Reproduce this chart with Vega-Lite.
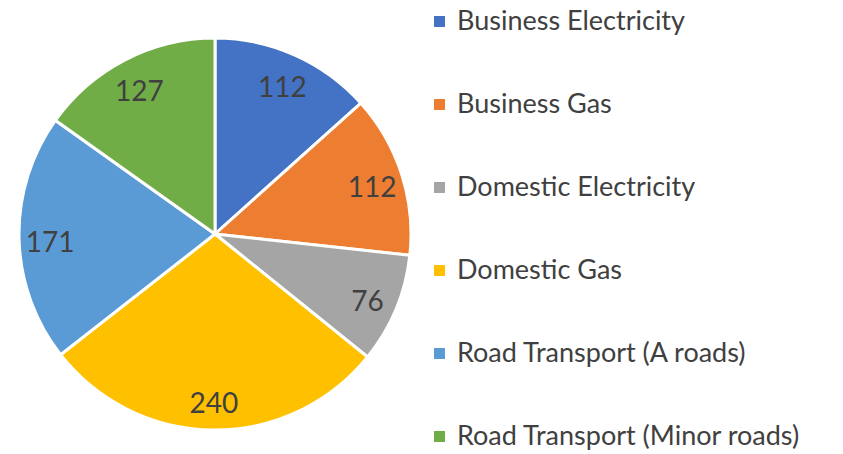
{
  "$schema": "https://vega.github.io/schema/vega-lite/v6.json",
  "autosize": "none",
  "width": 430,
  "height": 440,
  "padding": {"top": 14, "left": 0, "right": 413, "bottom": 0},
  "background": "white",
  "data": {
    "values": [
      {"i": 1, "category": "Business Electricity", "value": 112},
      {"i": 2, "category": "Business Gas", "value": 112},
      {"i": 3, "category": "Domestic Electricity", "value": 76},
      {"i": 4, "category": "Domestic Gas", "value": 240},
      {"i": 5, "category": "Road Transport (A roads)", "value": 171},
      {"i": 6, "category": "Road Transport (Minor roads)", "value": 127}
    ]
  },
  "encoding": {
    "theta": {"field": "value", "type": "quantitative", "stack": true},
    "order": {"field": "i", "type": "quantitative"},
    "color": {
      "field": "category",
      "type": "nominal",
      "scale": {
        "domain": ["Business Electricity", "Business Gas", "Domestic Electricity", "Domestic Gas", "Road Transport (A roads)", "Road Transport (Minor roads)"],
        "range": ["#4472C4", "#ED7D31", "#A5A5A5", "#FFC000", "#5B9BD5", "#70AD47"]
      },
      "legend": {
        "title": null,
        "orient": "none",
        "legendX": 426,
        "legendY": -6,
        "symbolType": "square",
        "symbolSize": 120,
        "symbolStrokeWidth": 0,
        "labelFont": "Lato",
        "labelFontSize": 27,
        "labelColor": "#404040",
        "labelOffset": 4,
        "rowPadding": 55,
        "labelLimit": 500
      }
    }
  },
  "layer": [
    {
      "mark": {"type": "arc", "outerRadius": 196, "stroke": "white", "strokeWidth": 3}
    },
    {
      "mark": {"type": "text", "radius": 165, "dy": 6, "font": "Lato", "fontSize": 28},
      "encoding": {
        "text": {"field": "value", "type": "quantitative"},
        "color": {"value": "#404040"}
      }
    }
  ]
}
